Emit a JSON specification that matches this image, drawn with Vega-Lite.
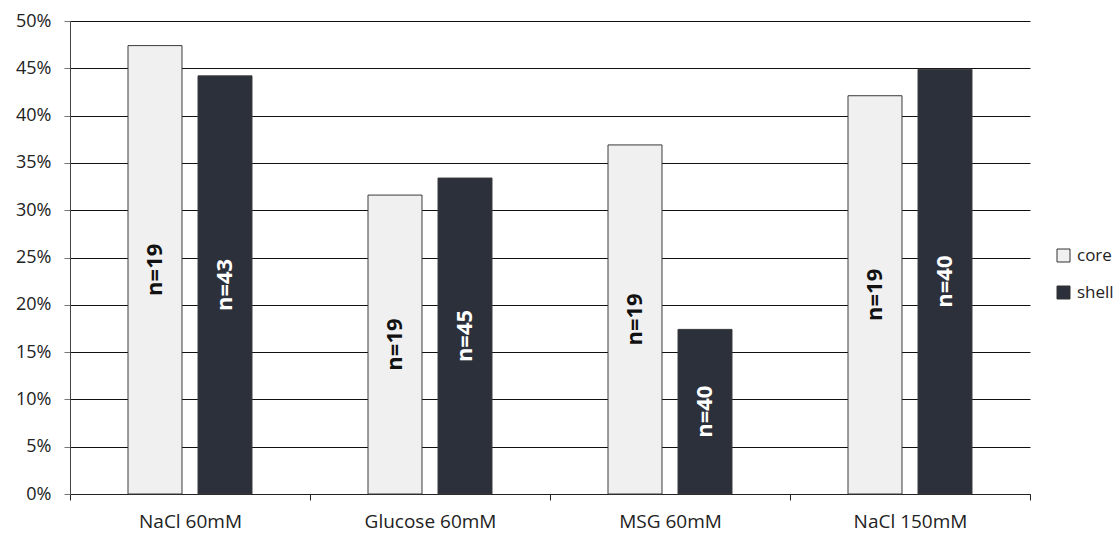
{
  "$schema": "https://vega.github.io/schema/vega-lite/v6.json",
  "width": 960,
  "height": 473,
  "autosize": "none",
  "padding": {"left": 70, "top": 21, "right": 90, "bottom": 42},
  "background": "white",
  "config": {
    "view": {"stroke": null},
    "font": "Open Sans",
    "axis": {"labelFont": "Open Sans", "labelColor": "#222", "labelFontSize": 18}
  },
  "data": {
    "values": [
      {"cat": "NaCl 60mM", "part": "core", "value": 0.474, "n": "n=19"},
      {"cat": "NaCl 60mM", "part": "shell", "value": 0.442, "n": "n=43"},
      {"cat": "Glucose 60mM", "part": "core", "value": 0.316, "n": "n=19"},
      {"cat": "Glucose 60mM", "part": "shell", "value": 0.334, "n": "n=45"},
      {"cat": "MSG 60mM", "part": "core", "value": 0.369, "n": "n=19"},
      {"cat": "MSG 60mM", "part": "shell", "value": 0.174, "n": "n=40"},
      {"cat": "NaCl 150mM", "part": "core", "value": 0.421, "n": "n=19"},
      {"cat": "NaCl 150mM", "part": "shell", "value": 0.449, "n": "n=40"}
    ]
  },
  "encoding": {
    "x": {
      "field": "cat",
      "type": "nominal",
      "sort": null,
      "scale": {"paddingInner": 0, "paddingOuter": 0},
      "axis": {
        "title": null,
        "labelAngle": 0,
        "labelFontSize": 19,
        "tickBand": "extent",
        "tickSize": 6,
        "tickColor": "#222",
        "domainColor": "#222",
        "labelPadding": 12
      }
    },
    "xOffset": {
      "field": "part",
      "type": "nominal",
      "sort": ["core", "shell"],
      "scale": {"paddingInner": 0.2286, "paddingOuter": 0.8286}
    }
  },
  "layer": [
    {
      "mark": {"type": "bar", "strokeWidth": 1},
      "encoding": {
        "y": {
          "field": "value",
          "type": "quantitative",
          "scale": {"domain": [0, 0.5]},
          "axis": {
            "title": null,
            "format": ".0%",
            "values": [0, 0.05, 0.1, 0.15, 0.2, 0.25, 0.3, 0.35, 0.4, 0.45, 0.5],
            "labelOverlap": false,
            "grid": true,
            "gridColor": "#111",
            "gridWidth": 1,
            "domainColor": "#444",
            "tickColor": "#777",
            "tickSize": 6,
            "labelPadding": 13
          }
        },
        "fill": {
          "field": "part",
          "type": "nominal",
          "scale": {"domain": ["core", "shell"], "range": ["#f0f0f0", "#2c303a"]},
          "legend": {
            "title": null,
            "orient": "none",
            "legendX": 985,
            "legendY": 226,
            "symbolType": "square",
            "symbolSize": 169,
            "symbolStrokeColor": "#333",
            "symbolStrokeWidth": 1,
            "labelFontSize": 17,
            "labelColor": "#222",
            "rowPadding": 19,
            "labelOffset": 5
          }
        },
        "stroke": {"value": "#3a3a3a"}
      }
    },
    {
      "mark": {"type": "text", "angle": 270, "fontWeight": "bold", "fontSize": 22, "baseline": "middle", "align": "center"},
      "encoding": {
        "y": {"field": "value", "type": "quantitative", "scale": {"domain": [0, 1]}, "axis": null},
        "text": {"field": "n"},
        "color": {
          "field": "part",
          "type": "nominal",
          "scale": {"domain": ["core", "shell"], "range": ["#111111", "#ffffff"]},
          "legend": null
        }
      }
    }
  ],
  "resolve": {"scale": {"y": "independent", "color": "independent"}, "axis": {"y": "independent"}}
}
